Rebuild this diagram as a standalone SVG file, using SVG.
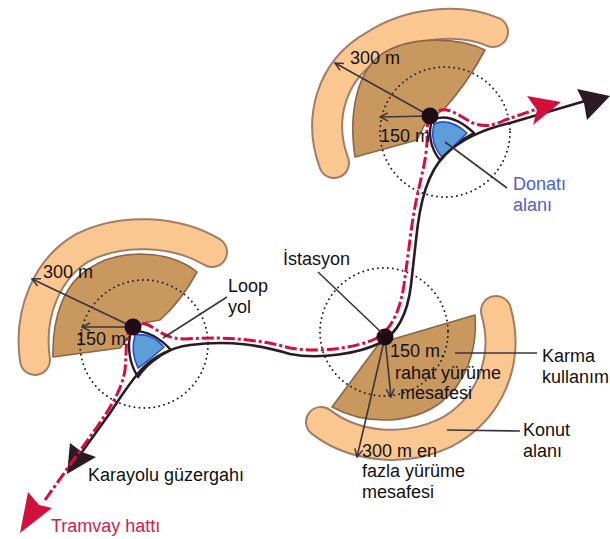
<svg xmlns="http://www.w3.org/2000/svg" width="610" height="539" viewBox="0 0 610 539">
  <defs>
    <style>
      .band-edge { fill: none; stroke: #a27d66; stroke-width: 32; stroke-linecap: round; }
      .band { fill: none; stroke: #f9c78f; stroke-width: 28; stroke-linecap: round; }
      .sector { fill: #c9985e; stroke: #8d6646; stroke-width: 1.6; stroke-linejoin: round; }
      .walk { fill: none; stroke: #222; stroke-width: 2; stroke-dasharray: 0 5; stroke-linecap: round; }
      .road { fill: none; stroke: #2b1a22; stroke-width: 2.6; stroke-linecap: round; }
      .tram { fill: none; stroke: #d3103d; stroke-width: 3; stroke-dasharray: 12 3 3 3; }
      .loop { fill: #ffffff; stroke: #2b1a22; stroke-width: 2.4; stroke-linejoin: round; }
      .service { fill: #5e9ed8; stroke: #2a4dcc; stroke-width: 1.6; stroke-linejoin: round; }
      .dim { fill: none; stroke: #3a3540; stroke-width: 1.6; marker-end: url(#open); }
      .leader { fill: none; stroke: #3a3540; stroke-width: 1.6; }
      .station { fill: #1e0b14; }
      text { font-family: "Liberation Sans", Arial, sans-serif; font-size: 18px; fill: #111; }
      .blue { fill: #4b5fd6; }
      .red { fill: #d01c50; }
    </style>
    <marker id="open" viewBox="0 0 10 10" refX="9" refY="5" markerWidth="10" markerHeight="10" markerUnits="userSpaceOnUse" orient="auto">
      <path d="M1,1 L9,5 L1,9" fill="none" stroke="#3a3540" stroke-width="1.5"/>
    </marker>
  </defs>

  <rect width="610" height="539" fill="#ffffff"/>

  <!-- Upper station area -->
  <g id="area-top">
    <path class="band-edge" d="M334,163 C318,120 330,70 375,45 C410,22 460,18 493,32"/>
    <path class="band" d="M334,163 C318,120 330,70 375,45 C410,22 460,18 493,32"/>
    <path class="sector" d="M355,157 L417,140 L425,124 L445,108 Q468,82 485,50 C460,38 415,35 385,52 C358,68 348,110 355,157 Z"/>
    <circle class="walk" cx="445" cy="132" r="65"/>
  </g>

  <!-- Left station area -->
  <g id="area-left">
    <path class="band-edge" d="M35,360 C28,312 48,268 82,248 C120,228 175,230 212,252"/>
    <path class="band" d="M35,360 C28,312 48,268 82,248 C120,228 175,230 212,252"/>
    <path class="sector" d="M53,357 L120,348 L128,338 L143,323 L160,320 Q182,300 197,272 C170,250 120,248 90,268 C65,283 52,315 53,357 Z"/>
    <circle class="walk" cx="144" cy="344" r="64"/>
  </g>

  <!-- Middle station area -->
  <g id="area-middle">
    <path class="band-edge" d="M496,311 C510,360 490,410 445,433 C405,452 355,448 321,422"/>
    <path class="band" d="M496,311 C510,360 490,410 445,433 C405,452 355,448 321,422"/>
    <path class="sector" d="M390,340 L475,315 C478,350 465,385 440,403 C410,425 365,425 332,407 L378,345 Z"/>
    <circle class="walk" cx="384" cy="332" r="64"/>
  </g>

  <!-- Road, tram line and loops -->
  <g id="connectors">
    <path class="loop" d="M432,120 C445,114 460,120 474,133 C460,140 448,150 440,160 C430,148 428,133 432,120 Z"/>
    <path class="service" d="M434,124 C445,119 457,124 467,133 C458,142 450,150 442,157 C434,148 431,136 434,124 Z"/>
    <path class="loop" d="M131,331 C145,330 158,336 171,350 C160,355 146,365 138,377 C129,363 127,346 131,331 Z"/>
    <path class="service" d="M135,335 C147,333 157,339 164,347 C156,354 147,362 138,368 C133,358 132,346 135,335 Z"/>

    <path class="road" d="M82,452 L110,413 C120,398 128,385 140,371 C152,358 168,348 190,345 C230,340 260,345 290,354 C320,360 360,353 380,343 C400,332 408,310 411,285 L416,240 C420,200 428,172 445,155 C460,140 480,130 510,123 L585,101"/>
    <polygon points="610,96 577,89 584,103 587,120" fill="#2b1a22"/>
    <polygon points="67,474 70,443 82,452 96,457" fill="#2b1a22"/>

    <path class="tram" d="M45,500 L97,427 C110,408 122,390 125,370 C127,350 125,338 130,328 C135,320 147,323 155,329 C163,334 170,339 185,339 C230,336 260,340 290,348 C320,353 355,348 375,339 C392,330 400,310 404,285 L410,240 C414,205 420,185 424,165 C428,145 427,135 427,128 C428,115 438,108 447,110 C457,112 465,120 475,124 C485,127 495,125 505,120 L540,108"/>
    <polygon points="561,102 527,96 537,110 533,125" fill="#d3103d"/>
    <polygon points="20,533 28,492 39,505 52,508" fill="#d3103d"/>
  </g>

  <!-- Walking distance arrows -->
  <g id="distances">
    <line class="dim" x1="430" y1="116" x2="335" y2="63"/>
    <line class="dim" x1="430" y1="116" x2="380" y2="117"/>
    <line class="dim" x1="133" y1="327" x2="32" y2="279"/>
    <line class="dim" x1="133" y1="327" x2="82" y2="327"/>
    <line class="dim" x1="385" y1="337" x2="391" y2="397"/>
    <line class="dim" x1="385" y1="337" x2="357" y2="457"/>
  </g>

  <!-- Stations -->
  <g id="station-top"><circle class="station" cx="430" cy="116" r="8.5"/></g>
  <g id="station-left"><circle class="station" cx="133" cy="327" r="8.5"/></g>
  <g id="station-middle"><circle class="station" cx="385" cy="337" r="8.5"/></g>

  <!-- Leader lines -->
  <g id="leaders">
    <line class="leader" x1="445" y1="142" x2="507" y2="188"/>
    <line class="leader" x1="163" y1="338" x2="227" y2="297"/>
    <line class="leader" x1="318" y1="272" x2="382" y2="333"/>
    <line class="leader" x1="455" y1="353" x2="537" y2="353"/>
    <line class="leader" x1="447" y1="430" x2="520" y2="431"/>
  </g>

  <!-- Labels -->
  <g id="labels">
    <text x="350" y="64">300 m</text>
    <text x="380" y="142">150 m</text>
    <text class="blue" x="513" y="190">Donatı</text>
    <text class="blue" x="513" y="211">alanı</text>
    <text x="43" y="278">300 m</text>
    <text x="76" y="345">150 m</text>
    <text x="228" y="292">Loop</text>
    <text x="228" y="313">yol</text>
    <text x="283" y="265">İstasyon</text>
    <text x="390" y="357">150 m.</text>
    <text x="395" y="379">rahat yürüme</text>
    <text x="400" y="399">mesafesi</text>
    <text x="542" y="362">Karma</text>
    <text x="542" y="383">kullanım</text>
    <text x="523" y="436">Konut</text>
    <text x="523" y="457">alanı</text>
    <text x="362" y="457">300 m en</text>
    <text x="362" y="477">fazla yürüme</text>
    <text x="362" y="498">mesafesi</text>
    <text x="88" y="481">Karayolu güzergahı</text>
    <text class="red" x="51" y="532">Tramvay hattı</text>
  </g>
</svg>
